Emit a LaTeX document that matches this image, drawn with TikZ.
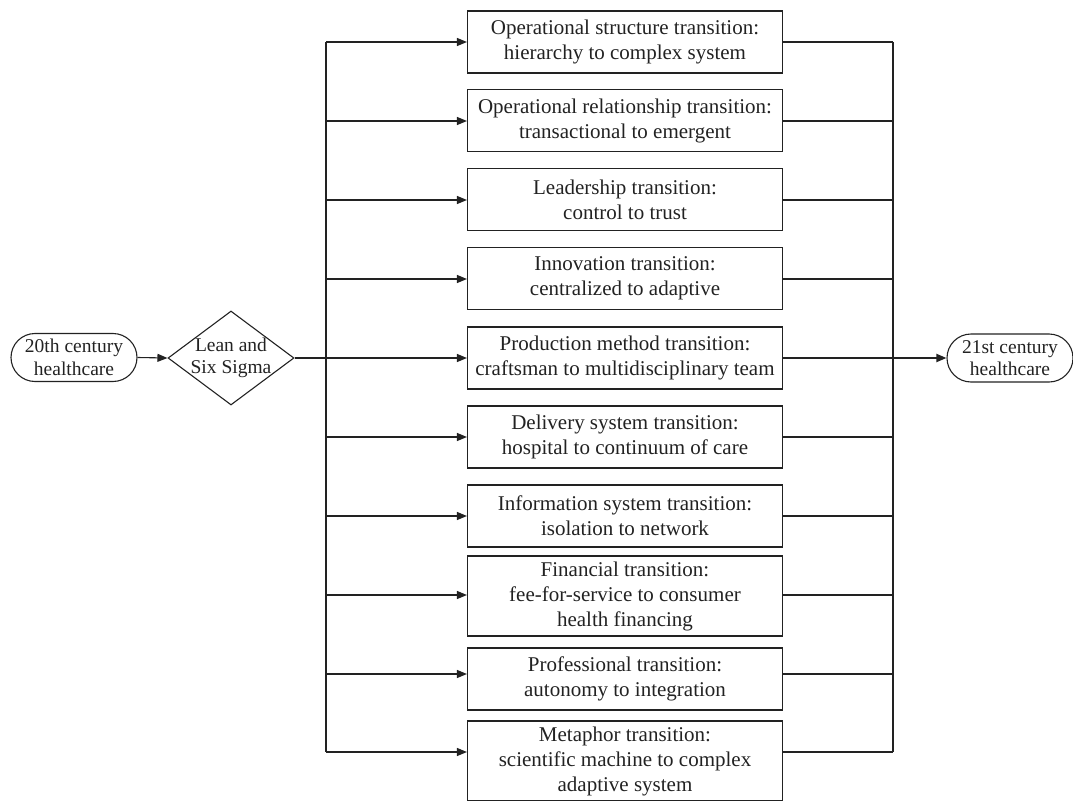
\documentclass[tikz,border=0pt]{standalone}
\usepackage{fontspec}
\setmainfont{Liberation Serif}
\usetikzlibrary{shapes.geometric,arrows.meta}
\definecolor{ink}{HTML}{222222}
\begin{document}
\begin{tikzpicture}[x=1bp,y=-1bp,
  every node/.style={text=ink, font=\fontsize{21bp}{25bp}\selectfont, align=center},
  small/.style={font=\fontsize{19.5bp}{22.5bp}\selectfont},
  tbox/.style={draw=ink, line width=1.1bp, minimum width=315bp, minimum height=62bp, inner sep=0pt},
  tbox3/.style={tbox, minimum height=80bp},
  oval/.style={draw=ink, line width=1.1bp, rounded corners=24bp, minimum width=126bp, minimum height=48bp, inner sep=0pt, small},
  dia/.style={draw=ink, line width=1.1bp, diamond, aspect=1.34, minimum width=126bp, minimum height=94bp, inner sep=0pt},
  branch/.style={draw=ink, line width=1.1bp},
  arr/.style={branch, -{Triangle[length=10bp,width=8bp]}},
  bus/.style={draw=ink, line width=1.8bp}
]
\useasboundingbox (0,0) rectangle (1073,801);
\clip (0,0) rectangle (1073,801);

\node[oval] (start) at (74,357.5) {20th century\\healthcare};
\node[dia] (lean) at (231,358) {};
\node[small] (leantext) at (lean.center) {Lean and\\Six Sigma};
\node[oval] (end) at (1010,358) {21st century\\healthcare};

\node[tbox] (b1) at (625,42) {Operational structure transition:\\hierarchy to complex system};
\node[tbox] (b2) at (625,120.5) {Operational relationship transition:\\transactional to emergent};
\node[tbox] (b3) at (625,199.5) {Leadership transition:\\control to trust};
\node[tbox] (b4) at (625,278.5) {Innovation transition:\\centralized to adaptive};
\node[tbox] (b5) at (625,358) {Production method transition:\\craftsman to multidisciplinary team};
\node[tbox] (b6) at (625,437) {Delivery system transition:\\hospital to continuum of care};
\node[tbox] (b7) at (625,516) {Information system transition:\\isolation to network};
\node[tbox3] (b8) at (625,596) {Financial transition:\\fee-for-service to consumer\\health financing};
\node[tbox] (b9) at (625,679) {Professional transition:\\autonomy to integration};
\node[tbox3] (b10) at (625,761) {Metaphor transition:\\scientific machine to complex\\adaptive system};

% bus coordinates
\foreach \i/\y in {1/42,2/121,3/200,4/279,5/358,6/437,7/516,8/595,9/674,10/752}{
  \coordinate (L\i) at (326,\y);
  \coordinate (R\i) at (893,\y);
}

\draw[arr] (start.east) -- (lean.west);
\draw[bus] (lean.east) -- (L5);
\draw[bus] (L1) -- (L10);
\draw[bus] (R1) -- (R10);
\foreach \i in {1,...,10}{
  \draw[arr] (L\i) -- (L\i -| b\i.west);
  \draw[branch] (R\i -| b\i.east) -- (R\i);
}
\draw[arr, line width=1.8bp] (R5) -- (end.west);
\end{tikzpicture}
\end{document}
